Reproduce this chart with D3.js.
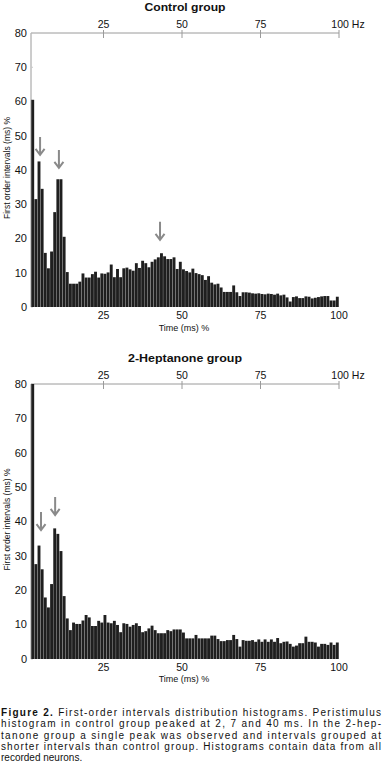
<!DOCTYPE html>
<html>
<head>
<meta charset="utf-8">
<title>First-order intervals</title>
<script src="https://d3js.org/d3.v7.min.js"></script>
<style>
  body { margin: 0; background: #fff; }
  svg text { font-family: "Liberation Sans", Arial, sans-serif; fill: #111; }
</style>
</head>
<body>
<div id="chart"></div>
<script>
// 1 ms bins, first one starts at 2 ms
var bins = d3.range(2, 100);

var controlValues = [
  60.5, 31.5, 42.5, 34.5, 15.8, 11.3, 16.2, 27.7, 37.3, 37.3,
  20.5, 10.2, 6.8, 6.8, 6.8, 7.4, 9.8, 8.6, 8.6, 9.6,
  10.3, 8.6, 9.8, 9.7, 10.1, 12.4, 8.7, 11.1, 8.7, 11.3,
  11.5, 11.0, 10.6, 12.8, 11.4, 13.5, 12.8, 11.6, 13.2, 13.9,
  14.5, 15.7, 14.8, 14.0, 14.0, 14.5, 11.1, 13.2, 11.0, 10.5,
  10.1, 11.2, 9.9, 9.6, 9.3, 7.9, 9.0, 7.1, 6.6, 6.8,
  5.7, 4.4, 4.4, 4.4, 6.3, 4.3, 3.2, 4.3, 4.3, 4.2,
  4.0, 3.9, 4.0, 3.8, 3.7, 3.9, 3.8, 3.6, 3.9, 3.4,
  3.6, 2.8, 1.6, 2.9, 3.1, 2.6, 2.6, 3.1, 3.0, 2.5,
  2.7, 2.9, 3.1, 3.2, 3.2, 1.9, 1.9, 3.0
];

var heptanoneValues = [
  80, 27.6, 33.0, 26.1, 17.9, 15.0, 21.8, 38.0, 36.4, 31.4,
  18.3, 11.8, 8.4, 10.6, 10.2, 10.2, 11.2, 12.8, 12.1, 9.6,
  9.6, 11.1, 10.6, 12.8, 10.6, 10.4, 11.1, 9.9, 7.8, 10.4,
  10.2, 9.4, 9.9, 10.4, 9.6, 7.8, 8.1, 8.9, 9.7, 8.4,
  7.5, 7.5, 7.5, 8.4, 8.1, 8.6, 8.6, 8.6, 7.7, 6.0,
  6.0, 6.0, 7.0, 6.0, 6.0, 6.0, 6.0, 6.8, 6.8, 5.8,
  5.2, 5.2, 5.5, 5.5, 7.0, 5.8, 3.6, 5.5, 5.3, 5.3,
  5.5, 5.0, 5.7, 5.0, 5.7, 5.0, 5.7, 5.0, 6.1, 4.6,
  5.0, 5.1, 4.4, 3.6, 3.9, 4.6, 4.6, 6.5, 5.0, 5.0,
  4.8, 3.6, 4.4, 4.4, 4.1, 4.8, 4.1, 4.8
];

// arrow position (ms) and tip height (%)
var controlArrows = [{ x: 4.8, y: 44.4 }, { x: 10.8, y: 40.6 }, { x: 43, y: 19.6 }];
var heptanoneArrows = [{ x: 5.1, y: 37.5 }, { x: 9.6, y: 41.9 }];

var topTicks = [25, 50, 75, 100];
var topTickLabels = ["25", "50", "75", "100 Hz"];
var bottomTicks = [25, 50, 75, 100];
var yTicks = [0, 10, 20, 30, 40, 50, 60, 70, 80];

var captionLines = [
  ["Figure 2.", " First-order intervals distribution histograms. Peristimulus"],
  ["", "histogram in control group peaked at 2, 7 and 40 ms. In the 2-hep-"],
  ["", "tanone group a single peak was observed and intervals grouped at"],
  ["", "shorter intervals than control group. Histograms contain data from all"],
  ["", "recorded neurons."]
];

var W = 384, H = 772;
var svg = d3.select("#chart").append("svg")
  .attr("width", W)
  .attr("height", H);

var x = d3.scaleLinear().domain([0, 100]).range([25, 339]);
var axisLeftX = 31;

function drawPanel(top, bottom, title, titleWidth, values, arrows, xLabelOffset) {
  var g = svg.append("g");
  var y = d3.scaleLinear().domain([0, 80]).range([bottom, top]);

  // title
  g.append("text")
    .attr("x", 185)
    .attr("y", top - 22)
    .attr("text-anchor", "middle")
    .attr("font-size", 11.5)
    .attr("font-weight", "bold")
    .attr("textLength", titleWidth)
    .attr("lengthAdjust", "spacingAndGlyphs")
    .text(title);

  // top (Hz) axis
  g.append("line")
    .attr("x1", axisLeftX).attr("x2", x(100))
    .attr("y1", top).attr("y2", top)
    .attr("stroke", "#9a9a9a").attr("stroke-width", 1);
  g.selectAll(".ttick").data(topTicks).enter().append("line")
    .attr("x1", function(d) { return x(d); })
    .attr("x2", function(d) { return x(d); })
    .attr("y1", top - 3).attr("y2", top + 5)
    .attr("stroke", "#9a9a9a").attr("stroke-width", 1);
  g.selectAll(".tlab").data(topTicks).enter().append("text")
    .attr("x", function(d, i) { return x(d) + (i == 3 ? 9 : 0); })
    .attr("y", top - 5.5)
    .attr("text-anchor", "middle")
    .attr("font-size", 10.5)
    .text(function(d, i) { return topTickLabels[i]; });

  // left axis
  g.append("line")
    .attr("x1", axisLeftX).attr("x2", axisLeftX)
    .attr("y1", top).attr("y2", bottom)
    .attr("stroke", "#9a9a9a").attr("stroke-width", 1);
  g.selectAll(".ytick").data(yTicks).enter().append("line")
    .attr("x1", axisLeftX).attr("x2", axisLeftX + 2)
    .attr("y1", function(d) { return y(d); })
    .attr("y2", function(d) { return y(d); })
    .attr("stroke", "#c8c8c8");
  g.selectAll(".ylab").data(yTicks).enter().append("text")
    .attr("x", 27)
    .attr("y", function(d) { return y(d) + 3.8; })
    .attr("text-anchor", "end")
    .attr("font-size", 11)
    .text(function(d) { return d; });

  g.append("text")
    .attr("transform", "translate(10," + ((top + bottom) / 2 - 2) + ") rotate(-90)")
    .attr("text-anchor", "middle")
    .attr("font-size", 8.5)
    .text("First order intervals (ms) %");

  // bars
  g.selectAll(".bar").data(values).enter().append("rect")
    .attr("x", function(d, i) { return x(bins[i]); })
    .attr("y", function(d) { return y(d); })
    .attr("width", function(d, i) { return x(bins[i] + 1) - x(bins[i]) - 0.25; })
    .attr("height", function(d) { return y(0) - y(d); })
    .attr("fill", "#1f1f1f");

  // bottom labels
  g.selectAll(".blab").data(bottomTicks).enter().append("text")
    .attr("x", function(d) { return x(d); })
    .attr("y", bottom + 12)
    .attr("text-anchor", "middle")
    .attr("font-size", 10.5)
    .text(function(d) { return d; });

  g.append("text")
    .attr("x", 184)
    .attr("y", bottom + xLabelOffset)
    .attr("text-anchor", "middle")
    .attr("font-size", 9)
    .text("Time (ms) %");

  // arrows
  g.selectAll(".arrow").data(arrows).enter().append("path")
    .attr("d", function(d) {
      var ax = x(d.x), ay = y(d.y);
      return "M" + ax + "," + (ay - 18) + "L" + ax + "," + ay +
        "M" + (ax - 4.5) + "," + (ay - 6) + "L" + ax + "," + ay + "L" + (ax + 4.5) + "," + (ay - 6);
    })
    .attr("fill", "none")
    .attr("stroke", "#8a8a8a")
    .attr("stroke-width", 2);
}

drawPanel(33, 307, "Control group", 81, controlValues, controlArrows, 24);
drawPanel(384, 659, "2-Heptanone group", 114, heptanoneValues, heptanoneArrows, 22.5);

// caption
var cap = svg.append("g");
captionLines.forEach(function(line, i) {
  var t = cap.append("text")
    .attr("x", 1)
    .attr("y", 716 + i * 11.3)
    .attr("font-size", 10);
  if (i < 4) {
    t.attr("textLength", 380).attr("lengthAdjust", "spacing");
  }
  if (line[0]) {
    t.append("tspan").attr("font-weight", "bold").text(line[0]);
  }
  t.append("tspan").text(line[1]);
});
</script>
</body>
</html>
